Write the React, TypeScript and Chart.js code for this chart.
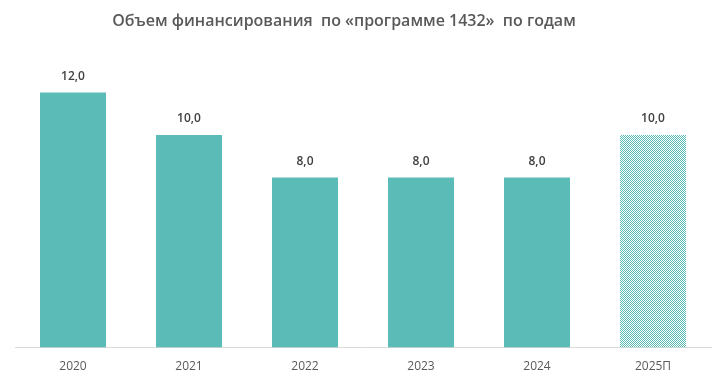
import React, { useEffect, useRef } from "react";
import { Chart, registerables } from "chart.js";

Chart.register(...registerables);

const categories = ["2020", "2021", "2022", "2023", "2024", "2025П"];
const values = [12.0, 10.0, 8.0, 8.0, 8.0, 10.0];
const forecast = [false, false, false, false, false, true];
const titleText = "Объем финансирования  по «программе 1432»  по годам";

const TEAL = "#5BBBB7";

export default function App() {
  const ref = useRef<HTMLCanvasElement>(null);
  useEffect(() => {
    document.body.style.margin = "0";
    const canvas = ref.current!;
    const pc = document.createElement("canvas");
    pc.width = 2;
    pc.height = 2;
    const pctx = pc.getContext("2d")!;
    pctx.fillStyle = "#ffffff";
    pctx.fillRect(0, 0, 2, 2);
    pctx.fillStyle = TEAL;
    pctx.fillRect(0, 0, 1, 1);
    pctx.fillRect(1, 1, 1, 1);
    const pattern = canvas.getContext("2d")!.createPattern(pc, "repeat")!;

    const labelPlugin = {
      id: "labels",
      afterDatasetsDraw(chart: any) {
        const ctx = chart.ctx;
        ctx.save();
        ctx.font = "600 12px 'Open Sans'";
        ctx.fillStyle = "#404040";
        ctx.textAlign = "center";
        ctx.textBaseline = "middle";
        const meta = chart.getDatasetMeta(0);
        meta.data.forEach((bar: any, i: number) => {
          ctx.fillText(values[i].toFixed(1).replace(".", ","), bar.x, bar.y - 16);
        });
        ctx.restore();
      },
      afterDraw(chart: any) {
        const ctx = chart.ctx;
        ctx.save();
        ctx.font = "600 16px 'Open Sans'";
        ctx.fillStyle = "#595959";
        ctx.textAlign = "center";
        ctx.textBaseline = "middle";
        ctx.fillText(titleText, 344, 21);
        ctx.restore();
      },
    };

    const chart = new Chart(canvas, {
      type: "bar",
      data: {
        labels: categories,
        datasets: [
          {
            data: values,
            backgroundColor: forecast.map((f) => (f ? pattern : TEAL)) as any,
            borderWidth: 0,
            categoryPercentage: 1,
            barPercentage: 0.569,
          },
        ],
      },
      options: {
        animation: false,
        responsive: false,
        layout: { padding: { top: 50, left: 15, right: 15, bottom: -2 } },
        plugins: { legend: { display: false }, tooltip: { enabled: false } },
        scales: {
          x: {
            grid: { display: false, drawTicks: false },
            border: { display: true, color: "#d9d9d9", width: 1 },
            ticks: {
              color: "#595959",
              font: { family: "'Open Sans'", size: 12 },
              padding: 12,
            },
          },
          y: {
            display: false,
            min: 0,
            max: 14,
          },
        },
      },
      plugins: [labelPlugin],
    });
    return () => chart.destroy();
  }, []);
  return <canvas ref={ref} width={726} height={384} />;
}
